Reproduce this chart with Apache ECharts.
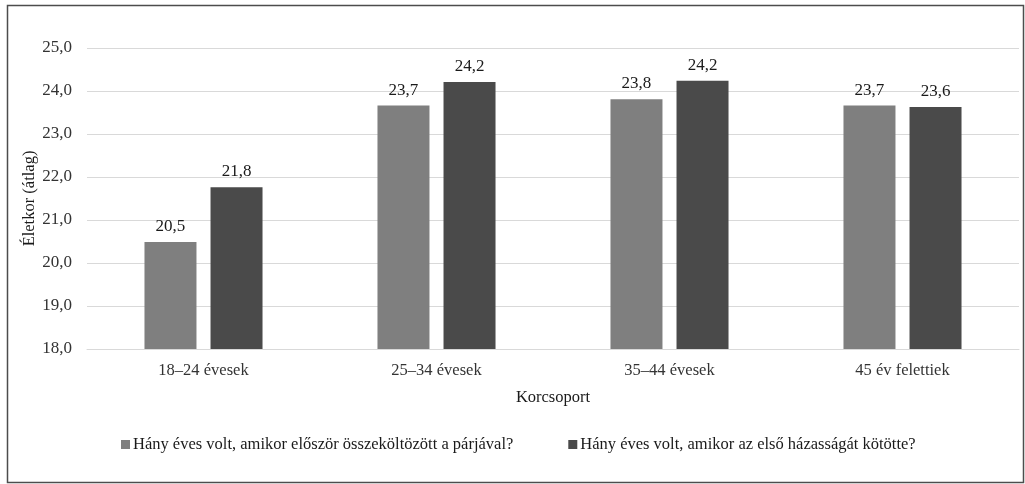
<!DOCTYPE html>
<html>
<head>
<meta charset="utf-8">
<script src="https://cdn.jsdelivr.net/npm/echarts@6/dist/echarts.min.js"></script>
<style>
html,body{margin:0;padding:0;background:#fff;}
#chart{width:1025px;height:484px;}
</style>
</head>
<body>
<div id="chart"></div>
<script>
const categories = ['18–24 évesek', '25–34 évesek', '35–44 évesek', '45 év felettiek'];
const seriesNames = ['Hány éves volt, amikor először összeköltözött a párjával?', 'Hány éves volt, amikor az első házasságát kötötte?'];
const firstCohabitation = [20.49, 23.66, 23.81, 23.66];
const firstMarriage = [21.76, 24.21, 24.24, 23.63];

const FONT = '"Liberation Serif", "Times New Roman", serif';
const FS = 16.5;
const fmt = v => v.toFixed(1).replace('.', ',');

const chart = echarts.init(document.getElementById('chart'));
chart.setOption({
  animation: false,
  textStyle: { fontFamily: FONT, color: '#1a1a1a' },
  graphic: [{
    type: 'rect', left: 5, top: 3,
    shape: { width: 1016, height: 477 },
    style: { fill: 'none', stroke: '#4d4d4d', lineWidth: 1.5 },
    silent: true
  }],
  grid: { left: 87, right: 6, top: 48, bottom: 135 },
  legend: {
    bottom: 26, left: 116,
    itemWidth: 9, itemHeight: 9, itemGap: 55,
    icon: 'rect',
    textStyle: { fontFamily: FONT, fontSize: FS, color: '#1a1a1a', padding: [0, 0, 0, -2] },
    data: seriesNames
  },
  xAxis: {
    type: 'category',
    data: categories,
    name: 'Korcsoport',
    nameLocation: 'middle',
    nameGap: 40,
    nameMoveOverlap: false,
    nameTextStyle: { fontFamily: FONT, fontSize: FS, color: '#1a1a1a' },
    axisLine: { lineStyle: { color: '#d9d9d9', width: 1 } },
    axisTick: { show: false },
    axisLabel: { fontFamily: FONT, fontSize: FS, color: '#333', margin: 13 }
  },
  yAxis: {
    type: 'value',
    min: 18, max: 25, interval: 1,
    name: 'Életkor (átlag)',
    nameLocation: 'middle',
    nameGap: 49,
    nameMoveOverlap: false,
    nameTextStyle: { fontFamily: FONT, fontSize: FS, color: '#1a1a1a' },
    axisLine: { show: false },
    axisTick: { show: false },
    splitLine: { lineStyle: { color: '#d9d9d9', width: 1 } },
    axisLabel: { fontFamily: FONT, fontSize: 17, color: '#333', margin: 15, formatter: v => fmt(v) }
  },
  series: [
    {
      name: seriesNames[0], type: 'bar', data: firstCohabitation,
      barWidth: 52, barGap: '27%',
      itemStyle: { color: '#7f7f7f' },
      label: { show: true, position: 'top', distance: 7, fontFamily: FONT, fontSize: 17, color: '#1a1a1a', formatter: p => fmt(p.value) }
    },
    {
      name: seriesNames[1], type: 'bar', data: firstMarriage,
      barWidth: 52, barGap: '27%',
      itemStyle: { color: '#4a4a4a' },
      label: { show: true, position: 'top', distance: 7, fontFamily: FONT, fontSize: 17, color: '#1a1a1a', formatter: p => fmt(p.value) }
    }
  ]
});
</script>
</body>
</html>
